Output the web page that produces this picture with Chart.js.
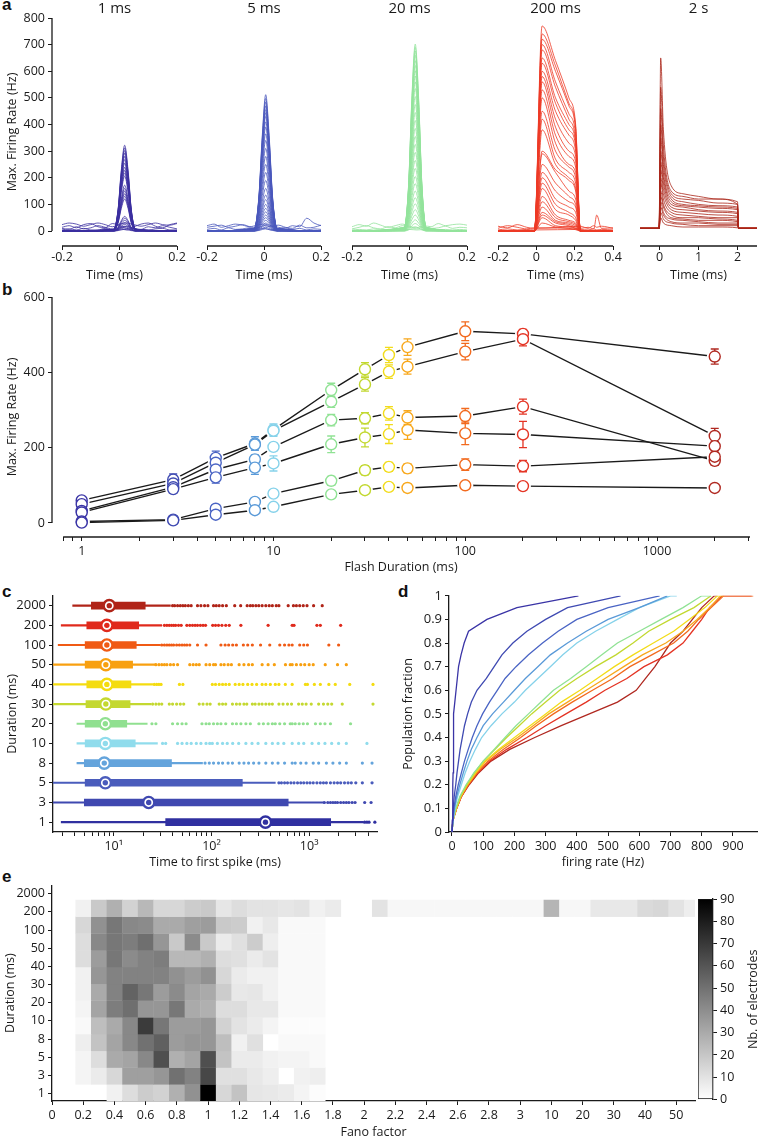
<!DOCTYPE html>
<html>
<head>
<meta charset="utf-8">
<title>Flash duration responses</title>
<script src="https://cdn.jsdelivr.net/npm/chart.js@4.4.1/dist/chart.umd.min.js"></script>
<style>
  body { margin: 0; background: #fff; }
  #page { position: relative; width: 758px; height: 1140px; overflow: hidden; }
  .panel { position: absolute; }
  .letter { position: absolute; font: bold 17px "Liberation Sans", Arial, sans-serif; line-height: 1; color: #111; }
</style>
</head>
<body>
<div id="page">
  <div class="letter" style="left:2px;top:-4px">a</div>
  <div class="letter" style="left:2px;top:281px">b</div>
  <div class="letter" style="left:2px;top:583px">c</div>
  <div class="letter" style="left:398px;top:583px">d</div>
  <div class="letter" style="left:2px;top:868px">e</div>
  <div class="panel" style="left:0;top:0;width:192px;height:290px"><canvas id="a1"></canvas></div>
  <div class="panel" style="left:192px;top:0;width:144px;height:290px"><canvas id="a2"></canvas></div>
  <div class="panel" style="left:337px;top:0;width:145px;height:290px"><canvas id="a3"></canvas></div>
  <div class="panel" style="left:483px;top:0;width:145px;height:290px"><canvas id="a4"></canvas></div>
  <div class="panel" style="left:628px;top:0;width:130px;height:290px"><canvas id="a5"></canvas></div>
  <div class="panel" style="left:0;top:285px;width:758px;height:295px"><canvas id="b"></canvas></div>
  <div class="panel" style="left:0;top:585px;width:385px;height:285px"><canvas id="c"></canvas></div>
  <div class="panel" style="left:390px;top:585px;width:368px;height:285px"><canvas id="d"></canvas></div>
  <div class="panel" style="left:0;top:875px;width:700px;height:265px"><canvas id="e"></canvas></div>
  <div class="panel" style="left:690px;top:885px;width:68px;height:225px"><canvas id="cb"></canvas></div>
</div>
<script>
// ---------- panel a : firing-rate traces ----------
const aYTicks = [0, 100, 200, 300, 400, 500, 600, 700, 800];
const aColors = ["#3b2fa0", "#4a58bd", "#93e39c", "#ee3a26", "#aa2418"];
const aShape = [0, 0.02, 0.25, 0.7, 1, 0.7, 0.25, 0.02, 0];

const a1Time = [-0.2, -0.02, -0.005, 0.006, 0.018, 0.03, 0.041, 0.056, 0.2];
const a1Peaks = [322, 312, 302, 292, 280, 268, 255, 240, 228, 218, 206, 172, 160, 150, 140, 130, 120, 55, 48, 40, 32, 25, 18, 12, 6];

const aBaseTime = [-0.2, -0.175, -0.15, -0.125, -0.1, -0.075, -0.05, -0.025, 0, 0.025, 0.05, 0.075, 0.1, 0.125, 0.15, 0.175, 0.2];
const a1Base = [
  [24, 30, 26, 18, 24, 30, 24, 16, 26, 30, 24, 18, 24, 30, 24, 22, 28],
  [14, 20, 12, 24, 28, 16, 12, 28, 20, 10, 16, 26, 30, 18, 12, 24, 30],
  [10, 6, 16, 8, 12, 20, 14, 8, 12, 18, 10, 6, 16, 12, 20, 14, 8],
  [4, 8, 4, 10, 4, 4, 10, 4, 8, 4, 10, 4, 4, 8, 10, 4, 4]
];

const a2Time = [-0.2, -0.034, -0.018, -0.006, 0.006, 0.018, 0.03, 0.046, 0.2];
const a2Peaks = [512, 498, 484, 470, 456, 444, 430, 410, 390, 365, 340, 310, 280, 250, 220, 190, 160, 135, 118, 100, 85, 72, 60, 50, 40, 30, 22, 14, 8];
const a2Base = [
  [20, 26, 14, 20, 26, 22, 16, 22, 26, 20, 14, 10, 20, 16, 48, 30, 20],
  [14, 18, 22, 14, 18, 24, 16, 12, 20, 16, 22, 14, 10, 22, 12, 14, 22],
  [6, 10, 4, 12, 6, 8, 12, 6, 10, 4, 8, 12, 6, 10, 4, 8, 6]
];

const a3Time = [-0.2, -0.018, -0.003, 0.008, 0.02, 0.032, 0.043, 0.058, 0.2];
const a3Peaks = [702, 690, 676, 660, 640, 622, 602, 582, 560, 535, 505, 475, 445, 415, 385, 355, 325, 295, 265, 235, 205, 178, 150, 125, 102, 80, 60, 42, 28, 16];
const a3Base = [
  [16, 24, 18, 30, 22, 14, 20, 26, 18, 12, 20, 16, 28, 20, 24, 26, 22],
  [8, 14, 20, 12, 8, 16, 12, 20, 14, 8, 14, 10, 12, 18, 10, 14, 12],
  [4, 6, 4, 8, 4, 6, 8, 4, 6, 4, 6, 8, 4, 6, 4, 6, 4]
];

// 200 ms: rate at t = 0.03, 0.1, 0.17, 0.205
const a4Time = [-0.2, -0.01, 0.03, 0.1, 0.17, 0.205, 0.23, 0.4];
const a4Traces = [
  [770, 640, 500, 400], [740, 620, 480, 390], [720, 600, 470, 380], [700, 560, 440, 360],
  [680, 540, 420, 340], [650, 500, 400, 330], [630, 480, 380, 320], [600, 450, 360, 300],
  [580, 420, 330, 280], [560, 390, 300, 260], [530, 360, 280, 240], [500, 330, 250, 220],
  [450, 300, 240, 200], [420, 270, 220, 180], [380, 250, 200, 160], [300, 230, 190, 150],
  [290, 220, 150, 120], [250, 180, 130, 100], [220, 150, 110, 90], [200, 120, 90, 70],
  [180, 100, 70, 50], [160, 80, 60, 40], [130, 60, 40, 30], [110, 50, 35, 25],
  [90, 40, 30, 20], [70, 35, 25, 15], [60, 30, 20, 10], [50, 20, 15, 10], [30, 15, 10, 5]
];
const a4BaseTime = [-0.2, -0.15, -0.1, -0.05, -0.01, 0.23, 0.27, 0.3, 0.315, 0.34, 0.4];
const a4Base = [
  [10, 20, 14, 8, 12, 10, 14, 8, 60, 10, 12],
  [18, 12, 24, 14, 10, 18, 10, 20, 14, 18, 10],
  [4, 8, 4, 6, 4, 6, 4, 8, 4, 6, 4]
];

// 2 s: rate at t = 0.03, 0.1, 0.3, 0.6, 1.0, 1.5, 2.0
const a5Time = [-0.5, -0.01, 0.03, 0.1, 0.3, 0.6, 1.0, 1.5, 2.0, 2.03, 2.5];
const a5Traces = [
  [650, 380, 170, 140, 130, 120, 110], [540, 320, 150, 130, 120, 120, 100],
  [460, 280, 140, 120, 115, 105, 100], [400, 250, 130, 110, 100, 95, 90],
  [350, 220, 120, 100, 95, 90, 85], [300, 200, 110, 95, 90, 85, 80],
  [260, 180, 100, 90, 80, 75, 70], [230, 160, 90, 80, 75, 70, 65],
  [200, 140, 80, 70, 65, 60, 55], [180, 120, 70, 60, 55, 50, 50],
  [150, 100, 60, 50, 50, 45, 40], [130, 90, 50, 45, 40, 40, 35],
  [110, 70, 45, 40, 35, 30, 30], [90, 60, 35, 30, 30, 25, 25],
  [70, 45, 30, 25, 20, 20, 20], [50, 30, 20, 15, 15, 15, 12]
];
const a5Rest = 10;

// ---------- panel b : max firing rate vs flash duration ----------
const bDur = [1, 3, 5, 8, 10, 20, 30, 40, 50, 100, 200, 2000];
const bColors = ["#3a34a6", "#3f4ab2", "#4a64c4", "#5a9ad8", "#86d2ea", "#90e294", "#c2d830", "#f2dc1a", "#f8a81c", "#f26a1e", "#e43424", "#b02820"];
const bRate1 = [60, 115, 173, 211, 248, 353, 408, 446, 467, 509, 502, 442];
const bRate2 = [50, 105, 160, 208, 245, 322, 368, 402, 415, 455, 488, 231];
const bRate3 = [32, 95, 142, 169, 202, 273, 278, 291, 280, 284, 309, 165];
const bRate4 = [28, 90, 121, 147, 158, 209, 227, 236, 247, 238, 235, 204];
const bRate5 = [4, 9, 38, 56, 78, 112, 140, 149, 145, 155, 151, 176];
const bRate6 = [1, 7, 22, 34, 43, 76, 87, 96, 93, 100, 98, 93];
const bErr1 = [8, 15, 18, 18, 15, 18, 18, 20, 22, 25, 12, 20];
const bErr2 = [6, 12, 15, 12, 15, 15, 18, 18, 20, 22, 18, 20];
const bErr3 = [5, 10, 12, 12, 10, 15, 15, 18, 18, 20, 20, 12];
const bErr4 = [5, 10, 15, 18, 20, 22, 25, 25, 25, 30, 35, 12];
const bErr5 = [3, 5, 8, 8, 8, 12, 12, 12, 12, 15, 15, 12];
const bErr6 = [2, 4, 6, 6, 6, 8, 8, 8, 10, 10, 8, 8];
const bYTicks = [0, 200, 400, 600];
const bXTicks = [1, 10, 100, 1000];

// ---------- panel c : time to first spike ----------
const cLabels = ["2000", "200", "100", "50", "40", "30", "20", "10", "8", "5", "3", "1"];
const cColors = ["#b02418", "#e02a1c", "#f05a14", "#f8a010", "#f4dc10", "#c4d830", "#90e090", "#90dcec", "#64a4dc", "#4a5cbc", "#3f48b0", "#3030a0"];
const cLo = [3.8, 2.9, 2.7, 2.4, 2.4, 2.4, 4.2, 4.2, 4.2, 2.4, 2.4, 2.9];
const cQ1 = [5.9, 5.3, 5.1, 5.1, 5.3, 5.2, 5.1, 5.1, 5.0, 5.1, 5.0, 34];
const cMed = [9.0, 8.5, 8.5, 8.3, 8.5, 8.3, 8.2, 8.2, 8.0, 8.2, 22.8, 357];
const cQ3 = [21, 18, 17, 15.6, 15, 14.7, 13.6, 16.6, 39, 207, 610, 1660];
const cHi = [38, 31, 30, 27, 25, 24, 22, 28, 81, 450, 1400, 3600];
const cOut2000 = [40, 42, 45, 48, 51, 54, 58, 62, 72, 78, 85, 92, 105, 112, 120, 130, 142, 173, 199, 232, 250, 265, 285, 305, 330, 360, 390, 420, 460, 490, 610, 690, 740, 800, 870, 950, 1110, 1360];
const cOut200 = [33, 35, 37, 39, 41, 43, 46, 49, 56, 60, 64, 68, 72, 77, 82, 87, 103, 110, 118, 128, 140, 152, 200, 380, 670, 700, 1200, 1300, 2100];
const cOut100 = [31, 33, 35, 37, 39, 41, 44, 47, 50, 53, 56, 60, 72, 88, 125, 138, 150, 165, 180, 212, 235, 262, 318, 395, 500, 560, 620, 670, 800, 880, 960, 1590, 2000];
const cOut50 = [27, 29, 31, 33, 35, 38, 41, 45, 60, 65, 70, 75, 88, 96, 105, 110, 125, 135, 148, 160, 192, 215, 240, 262, 330, 380, 440, 572, 640, 670, 740, 820, 900, 1000, 1100, 1460, 1950, 2400];
const cOut40 = [26, 27.5, 29, 30.5, 47, 51, 102, 110, 120, 130, 140, 152, 175, 192, 210, 235, 260, 290, 330, 360, 400, 450, 490, 570, 670, 915, 960, 1130, 1300, 1590, 1850, 2600, 4500];
const cOut30 = [25, 27, 29, 31, 37, 40, 44, 48, 52, 75, 82, 90, 97, 120, 130, 140, 164, 180, 195, 215, 230, 262, 280, 306, 330, 360, 390, 420, 490, 540, 600, 660, 780, 850, 930, 1050, 1250, 1400, 1550, 1700, 2180, 4500];
const cOut20 = [24.6, 27, 40, 45, 50, 55, 80, 88, 95, 105, 115, 125, 140, 164, 180, 200, 225, 250, 306, 340, 380, 420, 450, 500, 560, 640, 670, 720, 790, 870, 960, 1160, 1300, 1450, 1650, 2650];
const cOut10 = [31.6, 34, 45, 50, 56, 62, 70, 78, 88, 96, 102, 115, 130, 145, 165, 190, 225, 260, 300, 360, 420, 480, 550, 670, 780, 880, 1070, 1250, 1450, 1700, 2000, 2400, 3900];
const cOut8 = [86, 95, 105, 118, 130, 148, 164, 192, 215, 240, 270, 306, 360, 420, 480, 560, 670, 720, 820, 930, 1100, 1250, 1500, 1750, 2050, 2400, 3500, 4400];
const cOut5 = [490, 520, 560, 600, 650, 700, 760, 820, 880, 950, 1020, 1100, 1200, 1300, 1400, 1500, 1650, 1800, 1950, 2100, 2300, 2500, 2700, 3000, 3500, 4400];
const cOut3 = [1430, 1550, 1650, 1750, 1850, 1950, 2100, 2250, 2400, 2550, 2750, 2950, 3700, 4300];
const cOut1 = [3700, 3900, 4100, 4700];
const cXTicks = [10, 100, 1000];
const cXTickText = ["10\u00b9", "10\u00b2", "10\u00b3"];

// ---------- panel d : cumulative distributions ----------
const dFrac = [0, 0.05, 0.1, 0.15, 0.2, 0.25, 0.3, 0.35, 0.4, 0.45, 0.5, 0.55, 0.6, 0.65, 0.7, 0.75, 0.8, 0.85, 0.9, 0.95, 1, 1];
const dRate1 = [0, 1, 2, 2.5, 3, 3.5, 4, 4.5, 5, 5.5, 6, 9, 13, 17, 21, 29, 39, 53, 112, 208, 405, 405];
const dRate3 = [0, 2, 4, 7, 12, 16, 21, 26, 33, 40, 50, 62, 80, 110, 135, 160, 195, 240, 300, 370, 540, 540];
const dRate5 = [0, 3, 6, 12, 20, 30, 40, 52, 65, 80, 98, 120, 145, 170, 205, 245, 290, 340, 400, 500, 665, 665];
const dRate8 = [0, 3, 8, 15, 25, 36, 48, 62, 80, 100, 130, 165, 200, 235, 275, 315, 370, 430, 500, 600, 690, 690];
const dRate10 = [0, 4, 9, 18, 30, 42, 57, 75, 95, 125, 160, 200, 235, 275, 315, 355, 400, 460, 530, 600, 700, 720];
const dRate20 = [0, 3, 12, 25, 45, 70, 100, 135, 170, 205, 245, 285, 325, 380, 430, 480, 530, 600, 670, 740, 800, 830];
const dRate30 = [0, 3, 13, 27, 47, 72, 100, 138, 175, 215, 255, 300, 345, 400, 460, 525, 580, 630, 700, 775, 830, 830];
const dRate40 = [0, 3, 14, 28, 48, 75, 105, 150, 200, 250, 300, 350, 410, 465, 520, 580, 645, 710, 760, 810, 850, 860];
const dRate50 = [0, 3, 14, 28, 50, 77, 108, 155, 210, 260, 310, 370, 430, 490, 550, 610, 685, 740, 785, 825, 860, 870];
const dRate100 = [0, 3, 15, 30, 52, 80, 115, 165, 220, 270, 325, 385, 450, 515, 570, 640, 710, 755, 790, 830, 870, 965];
const dRate200 = [0, 3, 15, 30, 53, 82, 120, 175, 240, 300, 365, 430, 490, 560, 615, 690, 740, 770, 800, 825, 865, 960];
const dRate2000 = [0, 3, 15, 30, 55, 85, 125, 185, 265, 350, 440, 530, 590, 620, 650, 675, 700, 740, 770, 800, 840, 850];
const dYTicks = [0, 0.1, 0.2, 0.3, 0.4, 0.5, 0.6, 0.7, 0.8, 0.9, 1];
const dXTicks = [0, 100, 200, 300, 400, 500, 600, 700, 800, 900];

// ---------- panel e : Fano factor histogram ----------
const eXLabels = ["0", "0.2", "0.4", "0.6", "0.8", "1", "1.2", "1.4", "1.6", "1.8", "2", "2.2", "2.4", "2.6", "2.8", "3", "10", "20", "30", "40", "50"];
const eYLabels = ["1", "3", "5", "8", "10", "20", "30", "40", "50", "100", "200", "2000"];
const eRow2000 = [0, 0, 5, 19, 28, 16, 25, 14, 14, 18, 19, 9, 12, 10, 10, 9, 10, 5, 7, 0, 0, 10, 3, 3, 3, 3, 3, 3, 3, 3, 3, 3, 26, 3, 3, 8, 8, 8, 13, 14, 10, 6];
const eRow200 = [0, 0, 14, 39, 48, 42, 41, 30, 30, 34, 35, 19, 18, 5, 8, 2, 2, 2];
const eRow100 = [0, 0, 12, 42, 48, 46, 51, 37, 19, 41, 19, 7, 11, 18, 6, 2, 2, 2];
const eRow50 = [0, 0, 12, 35, 48, 41, 44, 46, 25, 25, 28, 12, 11, 7, 10, 2, 2, 2];
const eRow40 = [0, 0, 5, 37, 44, 44, 44, 44, 39, 35, 39, 14, 7, 5, 5, 2, 2, 2];
const eRow30 = [0, 0, 5, 30, 44, 55, 48, 35, 41, 32, 30, 18, 8, 9, 5, 2, 2, 2];
const eRow20 = [0, 0, 4, 32, 46, 51, 37, 37, 48, 30, 28, 12, 12, 8, 8, 2, 2, 2];
const eRow10 = [0, 0, 2, 23, 30, 42, 69, 48, 35, 35, 37, 16, 10, 7, 4, 1, 1, 1];
const eRow8 = [0, 0, 6, 21, 32, 42, 50, 56, 35, 37, 37, 23, 5, 11, 0, 2, 2, 2];
const eRow5 = [0, 0, 4, 12, 30, 32, 42, 62, 28, 32, 62, 21, 7, 7, 5, 4, 4, 2];
const eRow3 = [0, 0, 4, 7, 14, 34, 34, 37, 50, 44, 65, 11, 11, 8, 6, 0, 5, 6];
const eRow1 = [0, 0, 0, 0, 5, 12, 18, 16, 28, 39, 90, 14, 21, 9, 8, 7, 4, 1];
const eMax = 90;
const cbTicks = [0, 10, 20, 30, 40, 50, 60, 70, 80, 90];

// ---------- common setup ----------
const INK = "#1a1a1a";
Chart.defaults.font.family = "'Open Sans', 'DejaVu Sans', sans-serif";
Chart.defaults.font.size = 12.5;
Chart.defaults.color = INK;
Chart.defaults.animation = false;
Chart.defaults.responsive = true;
Chart.defaults.maintainAspectRatio = false;
Chart.defaults.events = [];
Chart.defaults.plugins.legend.display = false;
Chart.defaults.plugins.tooltip.enabled = false;

const tickGrid = { drawOnChartArea: false, drawTicks: true, tickLength: 4, color: INK, lineWidth: 1 };
const axisBorder = { display: true, color: INK, width: 1.3 };
const fixTicks = vals => scale => { scale.ticks = vals.map(v => ({ value: v })); };
const fixWidth = w => scale => { scale.width = w; };
const fixHeight = h => scale => { scale.height = h; };

// axis lines that only span part of the scale
Chart.register({
  id: "spines",
  afterDatasetsDraw(chart, args, opts) {
    const { ctx, chartArea, scales } = chart;
    ctx.save();
    ctx.strokeStyle = INK;
    ctx.lineWidth = 1.3;
    if (opts.x) {
      const y = chartArea.bottom;
      ctx.beginPath();
      ctx.moveTo(scales.x.getPixelForValue(opts.x[0]), y);
      ctx.lineTo(scales.x.getPixelForValue(opts.x[1]), y);
      ctx.stroke();
    }
    if (opts.y) {
      const x = chartArea.left;
      ctx.beginPath();
      ctx.moveTo(x, scales.y.getPixelForValue(opts.y[0]));
      ctx.lineTo(x, scales.y.getPixelForValue(opts.y[1]));
      ctx.stroke();
    }
    ctx.restore();
  }
});

const pts = (xs, ys) => xs.map((x, i) => ({ x: x, y: ys[i] }));

// ---------- panel a ----------
const peakLines = (time, peaks) => peaks.map(p => pts(time, aShape.map(s => s * p)));
const aPanels = [
  { id: "a1", title: "1 ms", lines: peakLines(a1Time, a1Peaks).concat(a1Base.map(b => pts(aBaseTime, b))),
    xMin: -0.2348, xMax: 0.2, span: [-0.2, 0.2], ticks: [-0.2, 0, 0.2], pad: { left: 0, right: 15 }, showY: true },
  { id: "a2", title: "5 ms", lines: peakLines(a2Time, a2Peaks).concat(a2Base.map(b => pts(aBaseTime, b))),
    xMin: -0.2, xMax: 0.2, span: [-0.2, 0.2], ticks: [-0.2, 0, 0.2], pad: { left: 15, right: 15 } },
  { id: "a3", title: "20 ms", lines: peakLines(a3Time, a3Peaks).concat(a3Base.map(b => pts(aBaseTime, b))),
    xMin: -0.2, xMax: 0.2, span: [-0.2, 0.2], ticks: [-0.2, 0, 0.2], pad: { left: 15, right: 15 } },
  { id: "a4", title: "200 ms", lines: a4Traces.map(t => pts(a4Time, [0, 0].concat(t, [0, 0]))).concat(a4Base.map(b => pts(a4BaseTime, b))),
    xMin: -0.2, xMax: 0.4, span: [-0.2, 0.4], ticks: [-0.2, 0, 0.2, 0.4], pad: { left: 15, right: 15 } },
  { id: "a5", title: "2 s", lines: a5Traces.map(t => pts(a5Time, [a5Rest, a5Rest].concat(t, [a5Rest, a5Rest]))),
    xMin: -0.5, xMax: 2.5, span: [-0.5, 2.5], ticks: [0, 1, 2], pad: { left: 12, right: 1 } }
];

aPanels.forEach((p, k) => {
  new Chart(document.getElementById(p.id), {
    type: "line",
    data: {
      datasets: p.lines.map(line => ({
        data: line, borderColor: aColors[k], borderWidth: 0.8, pointRadius: 0, cubicInterpolationMode: "monotone"
      }))
    },
    options: {
      layout: { padding: { left: p.pad.left, right: p.pad.right, top: 0, bottom: 0 } },
      plugins: {
        title: { display: true, text: p.title, font: { size: 15, weight: "normal" }, color: INK, padding: 0, fullSize: false },
        spines: { x: p.span, y: p.showY ? [0, 800] : null }
      },
      scales: {
        x: {
          type: "linear", min: p.xMin, max: p.xMax,
          afterBuildTicks: fixTicks(p.ticks), afterFit: fixHeight(44),
          grid: tickGrid, border: { display: false },
          ticks: { padding: 0, maxRotation: 0, autoSkip: false },
          title: { display: true, text: "Time (ms)", padding: { top: 0, bottom: 7.5 } }
        },
        y: {
          type: "linear", min: -56.3, max: 800, display: !!p.showY,
          afterBuildTicks: fixTicks(aYTicks), afterFit: fixWidth(p.showY ? 52 : 0),
          grid: tickGrid, border: { display: false },
          title: { display: true, text: "Max. Firing Rate (Hz)", padding: { top: 4.5, bottom: 0 } }
        }
      }
    }
  });
});

// ---------- panel b ----------
const bRates = [bRate1, bRate2, bRate3, bRate4, bRate5, bRate6];
const bErrs = [bErr1, bErr2, bErr3, bErr4, bErr5, bErr6];
const bPoints = [];
const bPointColors = [];
bRates.forEach(s => s.forEach((v, i) => { bPoints.push({ x: bDur[i], y: v }); bPointColors.push(bColors[i]); }));
const bMinor = [0.8, 0.9];
[1, 10, 100].forEach(d => { for (let m = 1; m < 10; m++) bMinor.push(m * d); });
bMinor.push(1000, 2000, 3000);
const bMaskIndex = bRates.length;

new Chart(document.getElementById("b"), {
  type: "line",
  data: {
    datasets: bRates.map(s => ({
      data: pts(bDur, s), borderColor: INK, borderWidth: 1.4, pointRadius: 0, order: 3
    })).concat([
      { data: bPoints, showLine: false, pointRadius: 8, pointBackgroundColor: "#fff", pointBorderWidth: 0, order: 2 },
      { data: bPoints, showLine: false, pointRadius: 5.5, pointBackgroundColor: "#fff", pointBorderColor: bPointColors, pointBorderWidth: 1.4, order: 1 }
    ])
  },
  options: {
    layout: { padding: { left: 0, right: 1, top: 12, bottom: 0 } },
    plugins: { spines: { x: [0.8, 3054], y: [0, 600] } },
    scales: {
      x: {
        type: "logarithmic", min: 0.70, max: 3054,
        afterBuildTicks: fixTicks(bMinor), afterFit: fixHeight(43),
        grid: tickGrid, border: { display: false },
        ticks: { callback: v => (bXTicks.includes(v) ? String(v) : ""), maxRotation: 0, autoSkip: false },
        title: { display: true, text: "Flash Duration (ms)", padding: { top: 0, bottom: 5.5 } }
      },
      y: {
        type: "linear", min: -37.2, max: 600,
        afterBuildTicks: fixTicks(bYTicks), afterFit: fixWidth(52),
        grid: tickGrid, border: { display: false },
        title: { display: true, text: "Max. Firing Rate (Hz)", padding: { top: 4.5, bottom: 0 } }
      }
    }
  },
  plugins: [{
    id: "bErrorBars",
    afterDatasetDraw(chart, args) {
      if (args.index !== bMaskIndex) return;
      const { ctx, scales: { x, y } } = chart;
      ctx.save();
      ctx.lineWidth = 1.3;
      bRates.forEach((s, k) => s.forEach((v, i) => {
        const px = x.getPixelForValue(bDur[i]);
        const top = y.getPixelForValue(v + bErrs[k][i]);
        const bot = y.getPixelForValue(v - bErrs[k][i]);
        ctx.strokeStyle = bColors[i];
        ctx.beginPath();
        ctx.moveTo(px, top); ctx.lineTo(px, bot);
        ctx.moveTo(px - 4, top); ctx.lineTo(px + 4, top);
        ctx.moveTo(px - 4, bot); ctx.lineTo(px + 4, bot);
        ctx.stroke();
      }));
      ctx.restore();
    }
  }]
});

// ---------- panel c ----------
const cOut = [cOut2000, cOut200, cOut100, cOut50, cOut40, cOut30, cOut20, cOut10, cOut8, cOut5, cOut3, cOut1];
const cOutPts = [];
const cOutCols = [];
cOut.forEach((vals, i) => vals.forEach(v => { cOutPts.push({ x: v, y: cLabels[i] }); cOutCols.push(cColors[i]); }));
const cMedPts = cLabels.map((l, i) => ({ x: cMed[i], y: l }));
const cMinor = [];
[1, 10, 100, 1000].forEach(d => { for (let m = 1; m < 10; m++) { const v = m * d; if (v > 2.39 && v < 4944) cMinor.push(v); } });

new Chart(document.getElementById("c"), {
  type: "bar",
  data: {
    labels: cLabels,
    datasets: [
      { type: "line", data: cOutPts, showLine: false, pointRadius: 1.6, pointBackgroundColor: cOutCols, pointBorderWidth: 0, order: 0 },
      { type: "line", data: cMedPts, showLine: false, pointRadius: 2.7, pointBackgroundColor: cColors, pointBorderWidth: 0, order: 0 },
      { type: "line", data: cMedPts, showLine: false, pointRadius: 5.6, pointBackgroundColor: "#fff", pointBorderColor: cColors, pointBorderWidth: 2.4, order: 1 },
      { data: cLabels.map((l, i) => [cQ1[i], cQ3[i]]), backgroundColor: cColors, barThickness: 7, grouped: false, order: 2 },
      { data: cLabels.map((l, i) => [cLo[i], cHi[i]]), backgroundColor: cColors, barThickness: 1.5, grouped: false, order: 3 }
    ]
  },
  options: {
    indexAxis: "y",
    layout: { padding: { left: 0, right: 7, top: 8, bottom: 0 } },
    scales: {
      x: {
        type: "logarithmic", min: 2.39, max: 4944,
        afterBuildTicks: fixTicks(cMinor), afterFit: fixHeight(38),
        grid: tickGrid, border: axisBorder,
        ticks: { callback: v => { const i = cXTicks.indexOf(v); return i >= 0 ? cXTickText[i] : ""; }, maxRotation: 0, autoSkip: false },
        title: { display: true, text: "Time to first spike (ms)", padding: { top: 0, bottom: 0.5 } }
      },
      y: {
        type: "category", afterFit: fixWidth(53),
        grid: Object.assign({}, tickGrid, { offset: false }), border: axisBorder,
        ticks: { font: { size: 13 }, autoSkip: false },
        title: { display: true, text: "Duration (ms)", padding: { top: 4.5, bottom: 0 } }
      }
    }
  }
});

// ---------- panel d ----------
const dRates = [dRate1, dRate3, dRate5, dRate8, dRate10, dRate20, dRate30, dRate40, dRate50, dRate100, dRate200, dRate2000];
new Chart(document.getElementById("d"), {
  type: "line",
  data: {
    datasets: dRates.map((r, i) => ({
      data: pts(r, dFrac), borderColor: bColors[i], borderWidth: 1.3, pointRadius: 0, tension: 0
    }))
  },
  options: {
    layout: { padding: { left: 0, right: 1, top: 7, bottom: 0 } },
    scales: {
      x: {
        type: "linear", min: -9.6, max: 977,
        afterBuildTicks: fixTicks(dXTicks), afterFit: fixHeight(38),
        grid: tickGrid, border: axisBorder,
        ticks: { maxRotation: 0, autoSkip: false },
        title: { display: true, text: "firing rate (Hz)", padding: { top: 0, bottom: 0 } }
      },
      y: {
        type: "linear", min: 0, max: 1,
        afterBuildTicks: fixTicks(dYTicks), afterFit: fixWidth(59),
        grid: tickGrid, border: axisBorder,
        ticks: { font: { size: 13 }, autoSkip: false, callback: (v, i) => String(dYTicks[i]) },
        title: { display: true, text: "Population fraction", padding: { top: 10.5, bottom: 0 } }
      }
    }
  }
});

// ---------- panel e ----------
const eRows = [eRow1, eRow3, eRow5, eRow8, eRow10, eRow20, eRow30, eRow40, eRow50, eRow100, eRow200, eRow2000];
const eXTickVals = eXLabels.map((l, i) => i * 2);
const eYTickVals = eYLabels.map((l, k) => 0.44 + k * 1.084);

new Chart(document.getElementById("e"), {
  type: "scatter",
  data: { datasets: [{ data: [] }] },
  options: {
    layout: { padding: { left: 0, right: 5, top: 10, bottom: 0 } },
    scales: {
      x: {
        type: "linear", min: 0, max: 41.2,
        afterBuildTicks: fixTicks(eXTickVals), afterFit: fixHeight(39),
        grid: tickGrid, border: axisBorder,
        ticks: { callback: (v, i) => eXLabels[i], maxRotation: 0, autoSkip: false },
        title: { display: true, text: "Fano factor", padding: { top: 0, bottom: 0 } }
      },
      y: {
        type: "linear", min: 0, max: 12.85,
        afterBuildTicks: fixTicks(eYTickVals), afterFit: fixWidth(52),
        grid: tickGrid, border: axisBorder,
        ticks: { callback: (v, i) => eYLabels[i], autoSkip: false },
        title: { display: true, text: "Duration (ms)", padding: { top: 2.5, bottom: 0 } }
      }
    }
  },
  plugins: [{
    id: "eHeatmap",
    beforeDatasetsDraw(chart) {
      const { ctx, chartArea, scales: { x, y } } = chart;
      ctx.save();
      ctx.beginPath();
      ctx.rect(chartArea.left, chartArea.top, chartArea.width, chartArea.height);
      ctx.clip();
      eRows.forEach((row, r) => row.forEach((v, c) => {
        if (!v) return;
        const g = Math.round(255 * (1 - v / eMax));
        ctx.fillStyle = "rgb(" + g + "," + g + "," + g + ")";
        const x0 = x.getPixelForValue(c - 0.5), x1 = x.getPixelForValue(c + 0.5);
        const y0 = y.getPixelForValue(r + 1), y1 = y.getPixelForValue(r);
        ctx.fillRect(x0, y0, x1 - x0 + 0.4, y1 - y0 + 0.4);
      }));
      ctx.restore();
    }
  }]
});

// colour bar
new Chart(document.getElementById("cb"), {
  type: "bar",
  data: {
    labels: [""],
    datasets: [{
      data: [eMax], barPercentage: 1, categoryPercentage: 1, borderWidth: 1, borderColor: INK, borderSkipped: false,
      backgroundColor: ctx => {
        const ca = ctx.chart.chartArea;
        if (!ca) return "#888";
        const g = ctx.chart.ctx.createLinearGradient(0, ca.bottom, 0, ca.top);
        g.addColorStop(0, "#ffffff");
        g.addColorStop(1, "#000000");
        return g;
      }
    }]
  },
  options: {
    layout: { padding: { left: 8, right: 0, top: 14, bottom: 9 } },
    scales: {
      x: { display: false },
      y: {
        position: "right", min: 0, max: eMax,
        afterBuildTicks: fixTicks(cbTicks), afterFit: fixWidth(45),
        grid: tickGrid, border: axisBorder,
        ticks: { autoSkip: false }
      }
    }
  },
  plugins: [{
    id: "cbTitle",
    afterDraw(chart) {
      const { ctx, chartArea } = chart;
      ctx.save();
      ctx.translate(63, (chartArea.top + chartArea.bottom) / 2);
      ctx.rotate(-Math.PI / 2);
      ctx.textAlign = "center";
      ctx.textBaseline = "middle";
      ctx.fillStyle = INK;
      ctx.font = "12.5px 'Open Sans', 'DejaVu Sans', sans-serif";
      ctx.fillText("Nb. of electrodes", 0, 0);
      ctx.restore();
    }
  }]
});
</script>
</body>
</html>
